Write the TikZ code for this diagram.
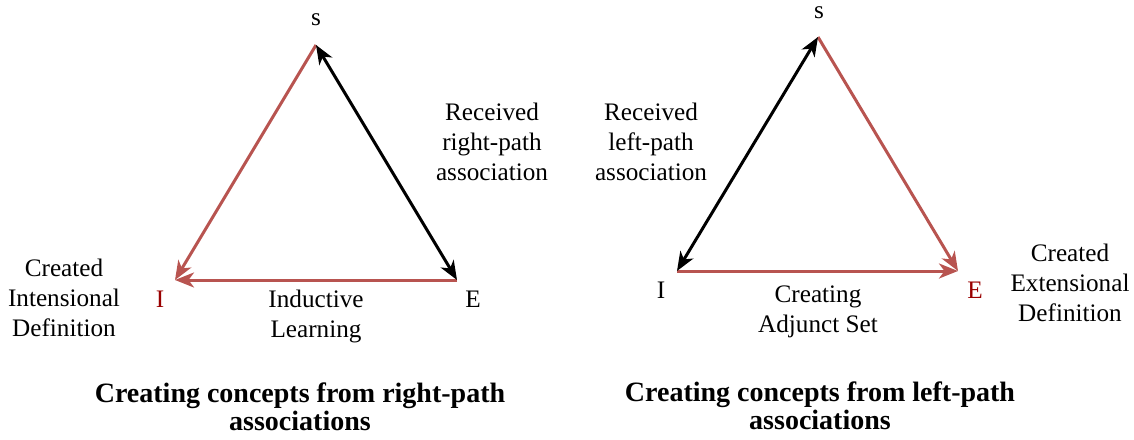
\documentclass[tikz,border=0pt]{standalone}
\usepackage{fontspec}
\setmainfont{Liberation Serif}
\usetikzlibrary{arrows.meta}
\definecolor{edgered}{HTML}{B85450}
\definecolor{labelred}{HTML}{990000}
\begin{document}
\begin{tikzpicture}[x=1pt,y=-1pt,
  lbl/.style={align=center,anchor=base,inner sep=0pt,font=\fontsize{25.2}{30}\selectfont},
  ttl/.style={align=center,anchor=base,inner sep=0pt,font=\fontsize{28}{28}\selectfont\bfseries},
  headtip/.style={-{Stealth[length=19pt,width=15pt,inset=5.5pt]}},
  bothtips/.style={{Stealth[length=19pt,width=15pt,inset=5.5pt]}-{Stealth[length=19pt,width=15pt,inset=5.5pt]}},
  redline/.style={draw=edgered,line width=3pt},
  blkline/.style={draw=black,line width=3pt},
]
\useasboundingbox (0,0) rectangle (1134,439);

% ---- left triangle: concepts from right-path associations ----
% (multi-line labels are placed by the baseline of their last line)
\coordinate (LS) at (316,45);
\coordinate (LI) at (175,280);
\coordinate (LE) at (457,280);
\draw[redline,headtip] (LS) -- (LI);
\draw[redline,headtip] (LE) -- (LI);
\draw[blkline,bothtips] (LS) -- (LE);

\node[lbl] (ls) at (316,25) {s};
\node[lbl,text=labelred] (li) at (160,307) {I};
\node[lbl] (le) at (473,307) {E};
\node[lbl] (lil) at (316,337) {Inductive\\Learning};
\node[lbl] (lrr) at (492,180) {Received\\right-path\\association};
\node[lbl] (lcid) at (64,336) {Created\\Intensional\\Definition};
\node[ttl] (lt) at (300,430) {Creating concepts from right-path\\associations};

% ---- right triangle: concepts from left-path associations ----
\coordinate (RS) at (818,37);
\coordinate (RI) at (677,271);
\coordinate (RE) at (958,271);
\draw[redline,headtip] (RS) -- (RE);
\draw[redline,headtip] (RI) -- (RE);
\draw[blkline,bothtips] (RI) -- (RS);

\node[lbl] (rs) at (819,18.5) {s};
\node[lbl] (ri) at (661,298) {I};
\node[lbl,text=labelred] (re) at (975,298) {E};
\node[lbl] (rca) at (818,332) {Creating\\Adjunct Set};
\node[lbl] (rrl) at (651,180) {Received\\left-path\\association};
\node[lbl] (rced) at (1070,321) {Created\\Extensional\\Definition};
\node[ttl] (rt) at (820,429) {Creating concepts from left-path\\associations};
\end{tikzpicture}
\end{document}
